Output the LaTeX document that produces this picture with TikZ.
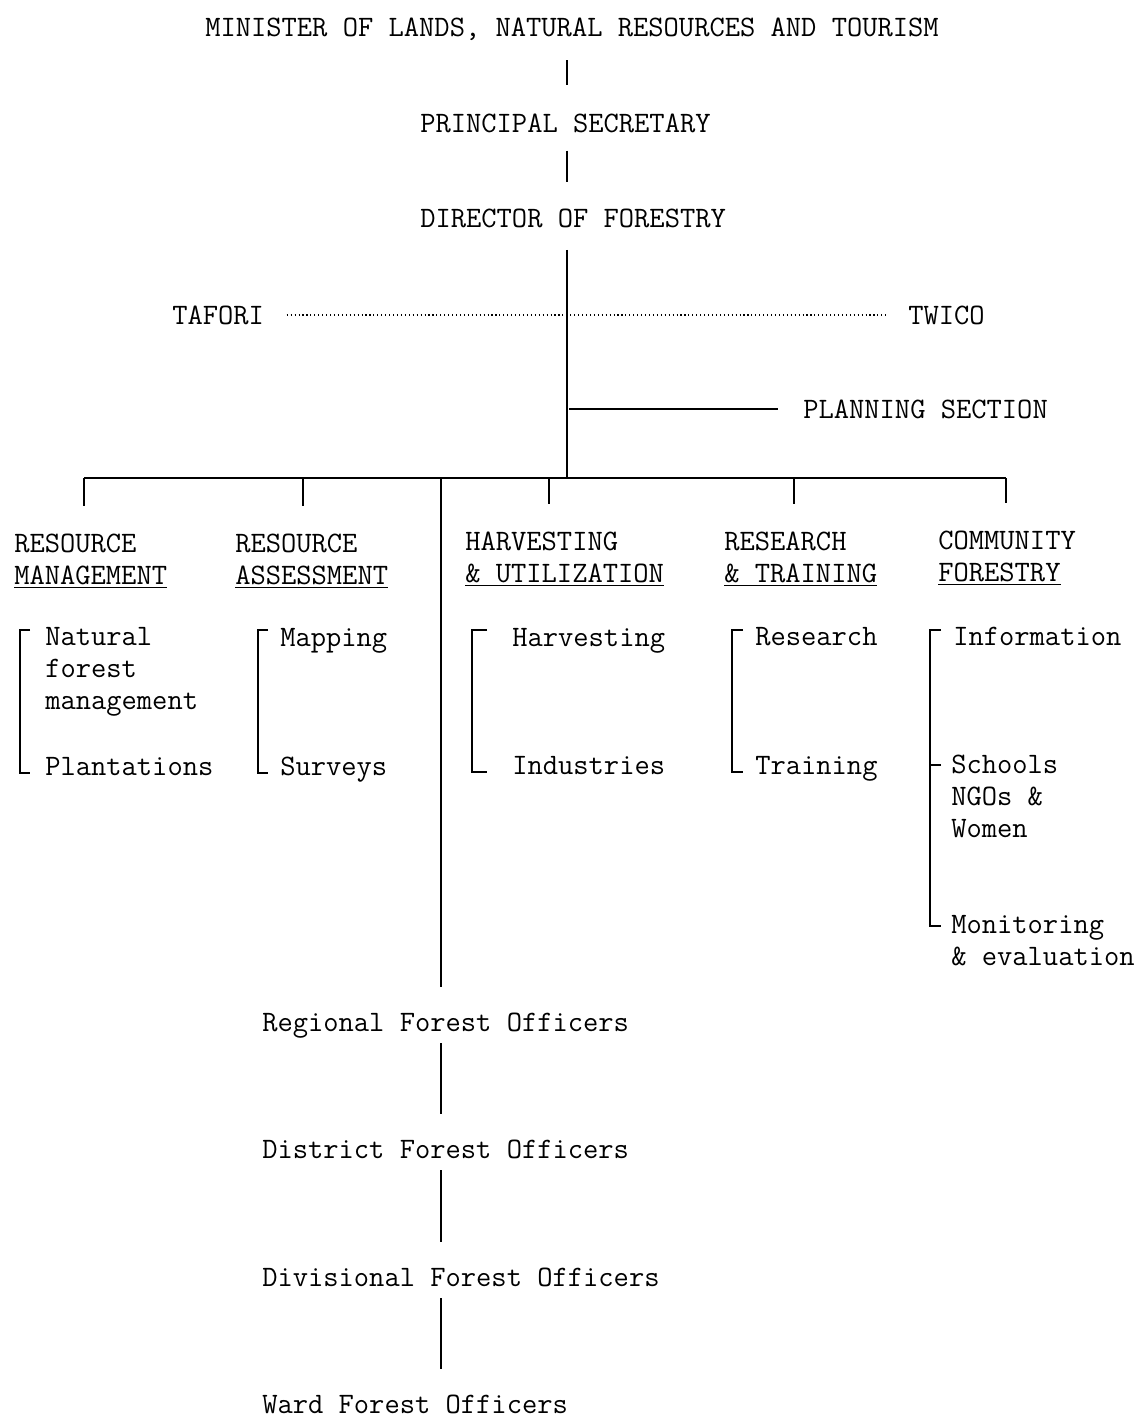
\documentclass[tikz,border=0pt]{standalone}
\usepackage{fontspec}
\usetikzlibrary{calc}

\begin{document}
\begin{tikzpicture}[x=0.025cm, y=-0.025cm,
  every node/.style={inner sep=0pt, font=\ttfamily\fontsize{21.1}{22.8}\selectfont},
  lbl/.style={anchor=west, text height=13pt, text depth=0pt},
  multi/.style={anchor=north west, align=left},
  rule/.style={line width=1.2pt},
  thinrule/.style={line width=0.8pt}]
\useasboundingbox (0,0) rectangle (1136,1419);
% --- Top of the chart ---
\node[lbl] (minister) at (205,27) {MINISTER OF LANDS, NATURAL RESOURCES AND TOURISM};
\node[lbl] (ps) at (420,123) {PRINCIPAL SECRETARY};
\node[lbl] (dir) at (420,218) {DIRECTOR OF FORESTRY};
\node[lbl] (tafori) at (172,315) {TAFORI};
\node[lbl] (twico) at (908,315) {TWICO};
\node[lbl] (plan) at (803,409) {PLANNING SECTION};
%
\coordinate (hub) at (567,478);
\coordinate (fork) at (441,478);
\coordinate (t1) at (84,478);
\coordinate (t2) at (303,478);
\coordinate (t3) at (549,478);
\coordinate (t4) at (794,478);
\coordinate (t5) at (1006,478);
% --- Divisions ---
\node[multi] (rm) at (14,534) {RESOURCE\\\underline{MANAGEMENT}};
\node[multi] (ra) at (235,534) {RESOURCE\\\underline{ASSESSMENT}};
\node[multi] (hu) at (465,532) {HARVESTING\\\underline{\& UTILIZATION}};
\node[multi] (rt) at (724,532) {RESEARCH\\\underline{\& TRAINING}};
\node[multi] (cf) at (938,531) {COMMUNITY\\\underline{FORESTRY}};
% --- Sections ---
\node[multi] (nat) at (45,627) {Natural\\forest\\management};
\node[lbl] (plant) at (45,766) {Plantations};
\node[lbl] (map) at (280,637) {Mapping};
\node[lbl] (surv) at (280,766) {Surveys};
\node[lbl] (harv) at (512,637) {Harvesting};
\node[lbl] (ind) at (512,765) {Industries};
\node[lbl] (res) at (755,636) {Research};
\node[lbl] (trn) at (755,765) {Training};
\node[lbl] (info) at (953,636) {Information};
\node[multi] (schools) at (951,755) {Schools\\NGOs \&\\Women};
\node[multi] (monit) at (951,915) {Monitoring\\\& evaluation};
% --- Field officers ---
\node[lbl] (reg) at (262,1022) {Regional Forest Officers};
\node[lbl] (dist) at (262,1149) {District Forest Officers};
\node[lbl] (divi) at (262,1277) {Divisional Forest Officers};
\node[lbl] (ward) at (262,1404) {Ward Forest Officers};
%
% --- Lines ---
\draw[rule, shorten <=17pt, shorten >=20pt] (minister.south -| hub) -- (ps.north -| hub);
\draw[rule, shorten <=13pt, shorten >=19pt] (ps.south -| hub) -- (dir.north -| hub);
\draw[rule, shorten <=16pt] (dir.south -| hub) -- (hub);
\draw[thinrule, dotted, shorten <=16pt, shorten >=16pt] (tafori.east) -- (twico.west);
\draw[thinrule, shorten <=1.5pt, shorten >=18pt] (plan.west -| hub) -- (plan.west);
\draw[thinrule] (t1) -- (t5);
\foreach \t/\h in {t1/rm, t2/ra, t3/hu, t4/rt, t5/cf}
  \draw[thinrule, shorten >=20pt] (\t) -- (\t |- \h.north);
\draw[rule, shorten >=18pt] (fork) -- (fork |- reg.north);
%
\draw[rule, shorten <=8.5pt, shorten >=18pt] (reg.south -| fork) -- (dist.north -| fork);
\draw[rule, shorten <=8.5pt, shorten >=18pt] (dist.south -| fork) -- (divi.north -| fork);
\draw[rule, shorten <=8.5pt, shorten >=18pt] (divi.south -| fork) -- (ward.north -| fork);
% --- Brackets ---
\draw[thinrule] ($(nat.north west)+(-15,3)$) -- ++(-10,0) |- ($(plant.west)+(-15,7)$);
\draw[thinrule] ($(map.west)+(-12,-7)$) -- ++(-10,0) |- ($(surv.west)+(-12,7)$);
\draw[thinrule] ($(harv.west)+(-25,-7)$) -- ++(-15,0) |- ($(ind.west)+(-25,7)$);
\draw[thinrule] ($(res.west)+(-12,-6)$) -- ++(-11,0) |- ($(trn.west)+(-12,7)$);
\draw[thinrule] ($(info.west)+(-12,-6)$) -- ++(-11,0) |- ($(monit.north west)+(-10,11)$);
\draw[thinrule] ($(schools.north west)+(-10,10)$) -- ++(-11,0);
%
\end{tikzpicture}
\end{document}
